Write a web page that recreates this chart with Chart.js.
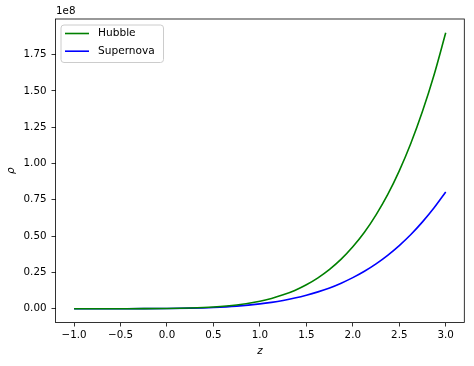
<!DOCTYPE html>
<html>
<head>
<meta charset="utf-8">
<script src="https://cdn.jsdelivr.net/npm/chart.js@4/dist/chart.umd.min.js"></script>
<style>
  html, body { margin: 0; padding: 0; background: #fff; }
  #c { display: block; }
</style>
</head>
<body>
<canvas id="c" width="474" height="366"></canvas>
<script>
// ---- data (rho in units of 1e8) ----
const zValues = [-1, -0.75, -0.5, -0.25, 0, 0.25, 0.5, 0.75, 1, 1.125, 1.25, 1.375, 1.5, 1.625, 1.75, 1.875, 2, 2.125, 2.25, 2.375, 2.5, 2.625, 2.75, 2.875, 3];
const hubble = [0, 0.000001, 0.00004, 0.0003, 0.0014, 0.0045, 0.0116, 0.0258, 0.0517, 0.0709, 0.0953, 0.126, 0.165, 0.2127, 0.271, 0.341, 0.426, 0.526, 0.646, 0.785, 0.949, 1.139, 1.359, 1.611, 1.9];
const supernova = [0, 0.000002, 0.00006, 0.0004, 0.0014, 0.0038, 0.0088, 0.0179, 0.0331, 0.0438, 0.057, 0.0731, 0.0925, 0.1159, 0.143, 0.176, 0.214, 0.258, 0.309, 0.368, 0.435, 0.511, 0.598, 0.695, 0.804];
const seriesNames = ['Hubble', 'Supernova'];
const xTicks = [-1.0, -0.5, 0.0, 0.5, 1.0, 1.5, 2.0, 2.5, 3.0];
const yTicks = [0.00, 0.25, 0.50, 0.75, 1.00, 1.25, 1.50, 1.75];
const offsetText = '1e8';
const xLabel = 'z';
const yLabel = 'ρ';

const FONT = 'DejaVu Sans';
const FS = 10.3;

const framePlugin = {
  id: 'frame',
  afterDraw(chart) {
    const { ctx, chartArea: a } = chart;
    ctx.save();
    ctx.strokeStyle = '#000';
    ctx.lineWidth = 0.8;
    ctx.strokeRect(a.left, a.top, a.right - a.left, a.bottom - a.top);
    ctx.fillStyle = '#000';
    ctx.font = FS + 'px "' + FONT + '"';
    ctx.textAlign = 'left';
    ctx.textBaseline = 'middle';
    ctx.fillText(offsetText, a.left + 0.5, 11.7);
    // legend
    const lx = a.left + 5.5, ly = a.top + 6, lw = 102.5, lh = 37.5, r = 3;
    ctx.beginPath();
    ctx.moveTo(lx + r, ly);
    ctx.lineTo(lx + lw - r, ly);
    ctx.arcTo(lx + lw, ly, lx + lw, ly + r, r);
    ctx.lineTo(lx + lw, ly + lh - r);
    ctx.arcTo(lx + lw, ly + lh, lx + lw - r, ly + lh, r);
    ctx.lineTo(lx + r, ly + lh);
    ctx.arcTo(lx, ly + lh, lx, ly + lh - r, r);
    ctx.lineTo(lx, ly + r);
    ctx.arcTo(lx, ly, lx + r, ly, r);
    ctx.closePath();
    ctx.fillStyle = 'rgba(255,255,255,0.8)';
    ctx.fill();
    ctx.strokeStyle = '#cccccc';
    ctx.lineWidth = 1;
    ctx.stroke();
    chart.data.datasets.forEach((ds, i) => {
      const y = ly + 8.5 + i * 17.7;
      ctx.strokeStyle = ds.borderColor;
      ctx.lineWidth = 1.6;
      ctx.beginPath();
      ctx.moveTo(lx + 4, y);
      ctx.lineTo(lx + 28, y);
      ctx.stroke();
      ctx.fillStyle = '#000';
      ctx.textAlign = 'left';
      ctx.textBaseline = 'middle';
      ctx.font = '10.6px "' + FONT + '"';
      ctx.fillText(ds.label, lx + 37, y);
    });
    ctx.restore();
  }
};

const toPts = arr => zValues.map((z, i) => ({ x: z, y: arr[i] }));

new Chart(document.getElementById('c'), {
  type: 'line',
  data: {
    datasets: [
      { label: seriesNames[0], data: toPts(hubble), borderColor: '#008000', borderWidth: 1.6,
        pointRadius: 0, fill: false, cubicInterpolationMode: 'monotone' },
      { label: seriesNames[1], data: toPts(supernova), borderColor: '#0000ff', borderWidth: 1.6,
        pointRadius: 0, fill: false, cubicInterpolationMode: 'monotone' }
    ]
  },
  options: {
    responsive: false,
    devicePixelRatio: 1,
    animation: false,
    layout: { padding: { left: 0, right: 9.7, top: 19, bottom: 0 } },
    plugins: { legend: { display: false }, tooltip: { enabled: false } },
    scales: {
      x: {
        type: 'linear',
        min: -1.2, max: 3.2,
        afterBuildTicks: s => { s.ticks = xTicks.map(v => ({ value: v })); },
        afterFit: s => { s.height = 43.5; },
        grid: { display: true, drawOnChartArea: false, drawTicks: true, tickLength: 4, tickColor: '#000', tickWidth: 0.8 },
        border: { display: false },
        ticks: { color: '#000', font: { family: FONT, size: FS }, padding: 3, maxRotation: 0,
                 callback: v => (v < 0 ? '\u2212' : '') + Math.abs(v).toFixed(1) },
        title: { display: true, text: xLabel, color: '#000',
                 font: { family: FONT, size: FS, style: 'italic' }, padding: { top: 0, bottom: 8.3 } }
      },
      y: {
        type: 'linear',
        min: -0.095, max: 1.995,
        afterBuildTicks: s => { s.ticks = yTicks.map(v => ({ value: v })); },
        afterFit: s => { s.width = 55.5; },
        grid: { display: true, drawOnChartArea: false, drawTicks: true, tickLength: 4, tickColor: '#000', tickWidth: 0.8 },
        border: { display: false },
        ticks: { color: '#000', font: { family: FONT, size: FS }, padding: 5,
                 callback: v => v.toFixed(2) },
        title: { display: true, text: yLabel, color: '#000',
                 font: { family: FONT, size: FS, style: 'italic' }, padding: { top: 5.3, bottom: 0 } }
      }
    }
  },
  plugins: [framePlugin]
});
</script>
</body>
</html>
